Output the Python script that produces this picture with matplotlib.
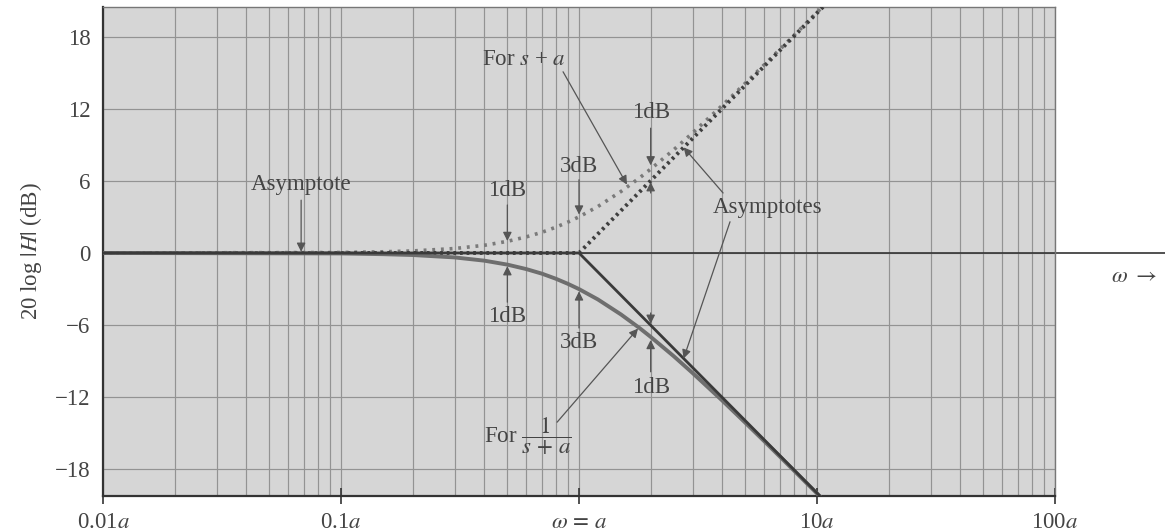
import numpy as np
import matplotlib
matplotlib.use("Agg")
import matplotlib.pyplot as plt
from matplotlib.ticker import FixedLocator, NullFormatter, LogLocator

plt.rcParams['font.family'] = ['Liberation Serif', 'DejaVu Serif']
plt.rcParams['mathtext.fontset'] = 'stix'

# exact curves
w_exact = [0.01, 0.1, 0.15, 0.2, 0.3, 0.4, 0.5, 0.6, 0.7, 0.8, 0.9, 1.0,
           1.2, 1.5, 1.8, 2.0, 2.5, 3.0, 4.0, 5.0, 6.0, 7.0, 8.0, 10.0, 11.0]
db_sa = [0.0, 0.04, 0.1, 0.17, 0.37, 0.64, 0.97, 1.34, 1.73, 2.15, 2.58, 3.01,
         3.87, 5.12, 6.27, 6.99, 8.6, 10.0, 12.3, 14.15, 15.68, 16.99, 18.13, 20.04, 20.9]
db_inv = [-v for v in db_sa]

# straight-line asymptotes
w_asym = [0.01, 1.0, 11.0]
db_asym_up = [0.0, 0.0, 20.83]
db_asym_dn = [0.0, 0.0, -20.83]

xticks = [0.01, 0.1, 1, 10, 100]
xlabels = [r'0.01$a$', r'0.1$a$', r'$\omega\, =\, a$', r'10$a$', r'100$a$']
yticks = [-18, -12, -6, 0, 6, 12, 18]

fs = 16.5
txt = '#444444'
fig = plt.figure(figsize=(11.65, 5.32), dpi=100)
ax = fig.add_axes([0.0884, 0.0677, 0.8172, 0.9192])
ax.set_facecolor('#d6d6d6')
ax.set_xscale('log')
ax.set_xlim(0.01, 100)
ax.set_ylim(-20.25, 20.5)

ax.xaxis.set_major_locator(FixedLocator(xticks))
ax.xaxis.set_minor_locator(LogLocator(base=10, subs=np.arange(2, 10)))
ax.xaxis.set_minor_formatter(NullFormatter())
ax.set_xticks(xticks)
ax.set_xticklabels(xlabels)
ax.set_yticks(yticks)
ax.set_yticklabels([str(v).replace('-', '\u2212') for v in yticks])
ax.tick_params(axis='x', which='major', direction='inout', length=11, width=1.2,
               color='#333333', labelsize=fs, labelcolor=txt, pad=6)
ax.tick_params(axis='x', which='minor', length=0)
ax.tick_params(axis='y', length=0, labelsize=fs, labelcolor=txt, pad=9)

ax.grid(True, which='both', axis='x', color='#939393', lw=0.85)
ax.grid(True, which='major', axis='y', color='#939393', lw=0.85)
ax.set_axisbelow(True)
for s in ['left', 'bottom']:
    ax.spines[s].set_color('#333333')
    ax.spines[s].set_linewidth(1.6)
for s in ['top', 'right']:
    ax.spines[s].set_color('#777777')
    ax.spines[s].set_linewidth(1.0)

# zero axis running out past the frame
ax.axhline(0, xmin=0, xmax=1.12, color='#333333', lw=1.2, clip_on=False, zorder=2)

ax.plot(w_exact, db_sa, color='#7a7a7a', lw=2.6, ls=(0, (0.8, 1.6)), zorder=3)
ax.plot(w_asym, db_asym_up, color='#3f3f3f', lw=2.8, ls=(0, (0.7, 1.0)), zorder=3)
ax.plot(w_exact, db_inv, color='#6e6e6e', lw=2.8, zorder=3)
ax.plot(w_asym, db_asym_dn, color='#3a3a3a', lw=2.0, zorder=4)

ax.set_ylabel(r'20 log $|H|$ (dB)', fontsize=fs, color=txt, labelpad=8)
ax.text(1.059, 0.448, r'$\omega\ \rightarrow$', transform=ax.transAxes,
        fontsize=fs, color=txt, ha='left', va='center', clip_on=False)

labels = [
    ('Asymptote', 0.068, 5.7),
    (r'For $s$ + $a$', 0.587, 16.1),
    ('1dB', 2.0, 11.7),
    ('Asymptotes', 6.22, 3.75),
    ('3dB', 1.0, 7.2),
    ('1dB', 0.5, 5.2),
    ('1dB', 0.5, -5.3),
    ('3dB', 1.0, -7.5),
    ('1dB', 2.0, -11.25),
    (r'For $\dfrac{1}{s\,+\,a}$', 0.61, -15.3),
]
for s, x, y in labels:
    ax.text(x, y, s, fontsize=fs, color=txt, ha='center', va='center', zorder=6)

arrows = [
    ((0.068, 4.4), (0.068, 0.1)),
    ((0.857, 15.1), (1.59, 5.7)),
    ((2.0, 10.4), (2.0, 7.3)),
    ((2.0, 5.0), (2.0, 5.9)),
    ((4.03, 5.0), (2.75, 8.8)),
    ((4.31, 2.6), (2.75, -8.8)),
    ((1.0, 6.1), (1.0, 3.2)),
    ((0.5, 4.0), (0.5, 1.0)),
    ((0.5, -4.1), (0.5, -1.1)),
    ((1.0, -6.25), (1.0, -3.2)),
    ((2.0, -9.9), (2.0, -7.25)),
    ((2.0, -5.0), (2.0, -5.9)),
    ((0.809, -14.1), (1.77, -6.3)),
]
for tail, tip in arrows:
    ax.annotate('', xy=tip, xytext=tail,
                arrowprops=dict(arrowstyle='-|>', color='#555555', lw=0.9,
                                mutation_scale=13, shrinkA=0, shrinkB=0),
                zorder=5)

fig.savefig('out.png', dpi=100)
